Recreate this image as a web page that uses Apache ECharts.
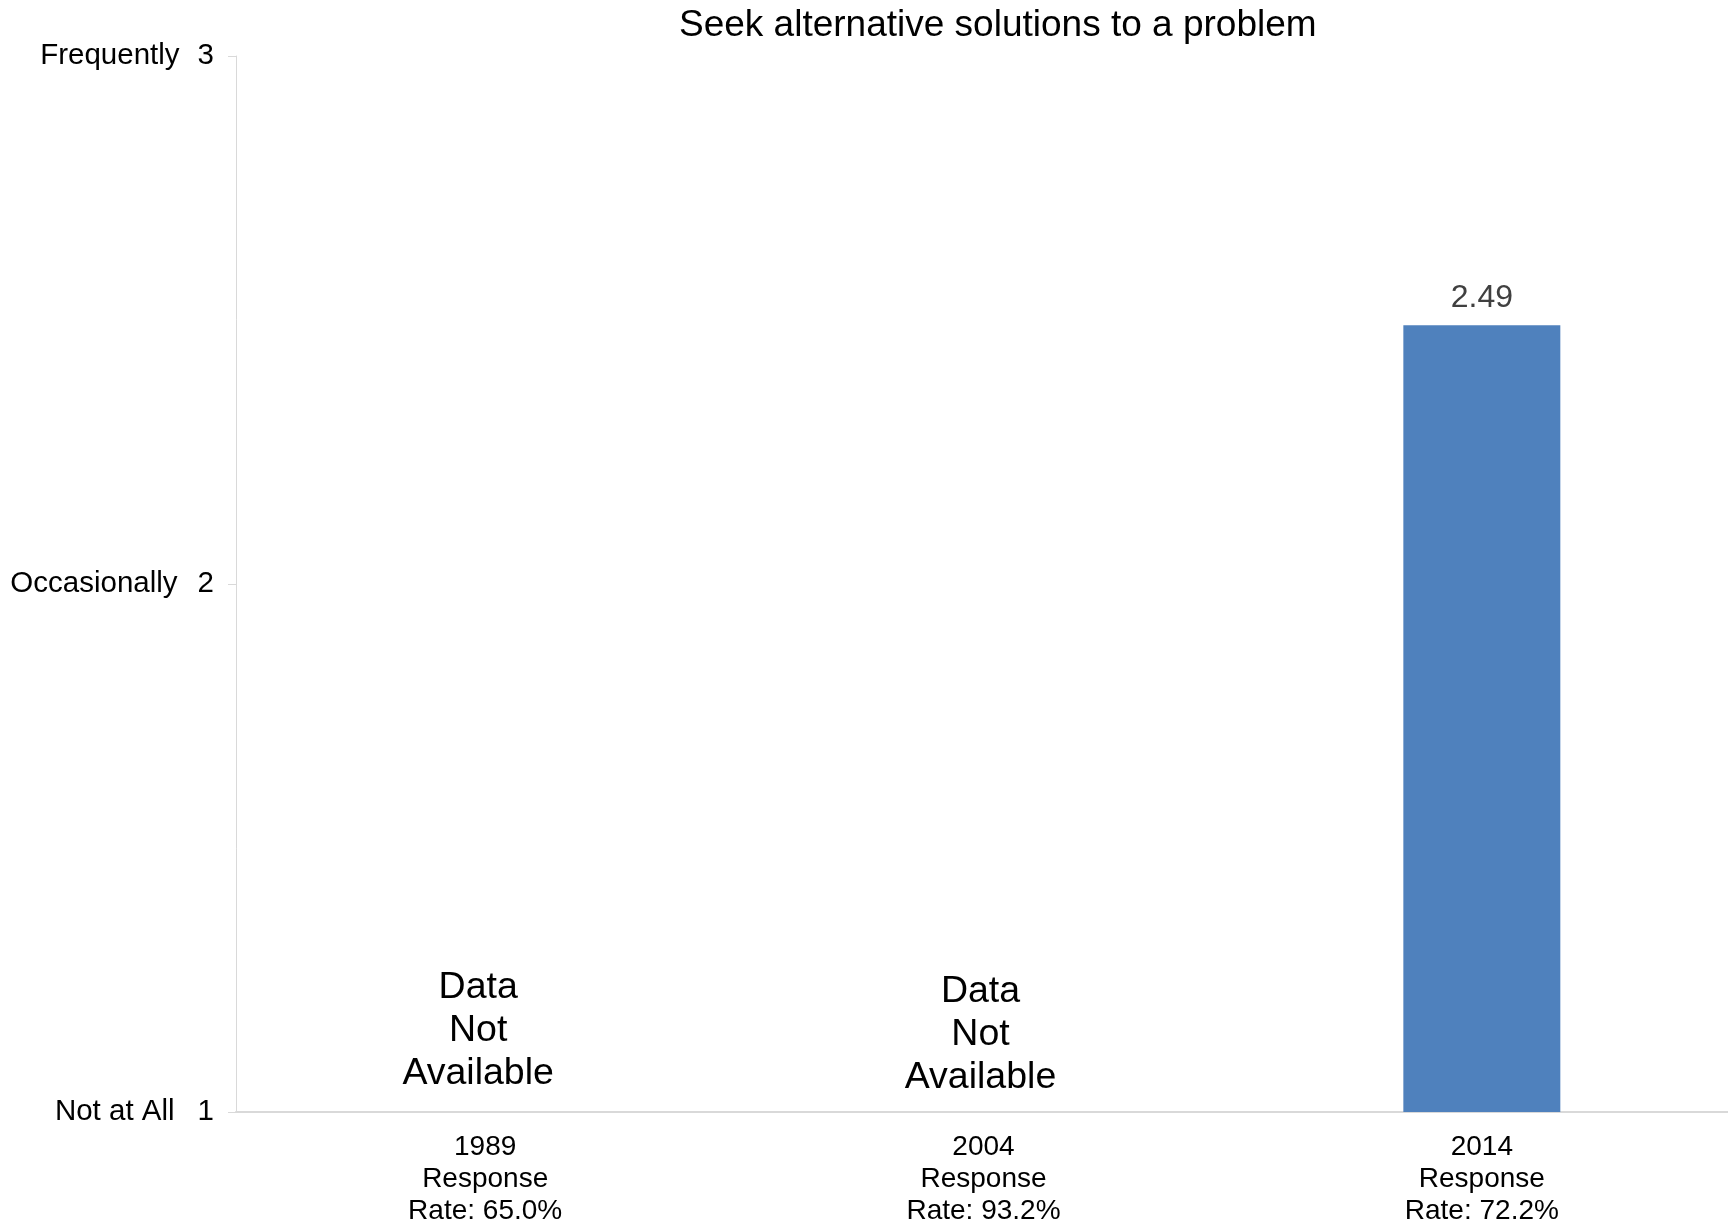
<!DOCTYPE html>
<html>
<head>
<meta charset="utf-8">
<script src="https://cdn.jsdelivr.net/npm/echarts@6/dist/echarts.min.js"></script>
<style>
html,body{margin:0;padding:0;background:#fff;}
#chart{width:1728px;height:1227px;}
</style>
</head>
<body>
<div id="chart"></div>
<script>
const title = 'Seek alternative solutions to a problem';
const categories = ['1989', '2004', '2014'];
const responseRates = ['65.0%', '93.2%', '72.2%'];
const values = [null, null, 2.49];
const yTickValues = [1, 2, 3];
const yTickNames = ['Not at All', 'Occasionally', 'Frequently'];
const missingText = 'Data\nNot\nAvailable';

const FONT = '"Liberation Sans", Arial, sans-serif';
const chart = echarts.init(document.getElementById('chart'));

const missingPoints = [];
categories.forEach((c, i) => {
  if (values[i] == null) {
    missingPoints.push({ coord: [c, yTickValues[0]], idx: i });
  }
});

const gapStyle = { 1: 'n1', 2: 'n2', 3: 'n3' };

chart.setOption({
  animation: false,
  backgroundColor: '#ffffff',
  title: {
    text: title,
    left: 679,
    top: 7,
    padding: 0,
    textStyle: { fontFamily: FONT, fontSize: 37, fontWeight: 'normal', color: '#000' }
  },
  grid: { left: 236, width: 1495, top: 56, bottom: 115, containLabel: false, outerBoundsMode: 'none' },
  xAxis: {
    type: 'category',
    data: categories,
    axisLine: { show: true, lineStyle: { color: '#d9d9d9', width: 2 } },
    axisTick: { show: false },
    axisLabel: {
      margin: 19,
      fontFamily: FONT,
      fontSize: 28,
      lineHeight: 32,
      color: '#000',
      formatter: (v, i) => v + '\nResponse\nRate: ' + responseRates[i]
    },
    splitLine: { show: false }
  },
  yAxis: {
    type: 'value',
    min: 1,
    max: 3,
    interval: 1,
    axisLine: { show: true, lineStyle: { color: '#d9d9d9', width: 1 } },
    axisTick: { show: true, length: 8, lineStyle: { color: '#d9d9d9' } },
    splitLine: { show: false },
    axisLabel: {
      margin: 22,
      fontFamily: FONT,
      fontSize: 29.5,
      color: '#000',
      formatter: v => {
        const k = yTickValues.indexOf(v);
        return '{w|' + (k >= 0 ? yTickNames[k] : '') + '}{' + (gapStyle[v] || 'n2') + '|' + v + '}';
      },
      rich: {
        w: { fontFamily: FONT, fontSize: 29.5, color: '#000' },
        n1: { fontFamily: FONT, fontSize: 29.5, color: '#000', padding: [0, 0, 0, 23] },
        n2: { fontFamily: FONT, fontSize: 29.5, color: '#000', padding: [0, 0, 0, 20] },
        n3: { fontFamily: FONT, fontSize: 29.5, color: '#000', padding: [0, 0, 0, 18] }
      }
    }
  },
  series: [{
    type: 'bar',
    data: values,
    barWidth: '31.5%',
    itemStyle: { color: '#4F81BD' },
    label: {
      show: true,
      position: 'top',
      distance: 11,
      fontFamily: FONT,
      fontSize: 32,
      color: '#404040',
      formatter: p => p.value == null ? '' : p.value.toFixed(2)
    },
    markPoint: {
      symbol: 'circle',
      symbolSize: 0,
      silent: true,
      itemStyle: { color: 'transparent' },
      label: {
        show: true,
        position: 'top',
        distance: 0,
        fontFamily: FONT,
        fontSize: 37.5,
        lineHeight: 43,
        color: '#000',
        align: 'center',
        formatter: () => missingText
      },
      data: missingPoints.map((m, j) => ({
        coord: m.coord,
        label: { offset: j === 0 ? [-7, -17] : [-3, -13] }
      }))
    }
  }]
});
</script>
</body>
</html>
